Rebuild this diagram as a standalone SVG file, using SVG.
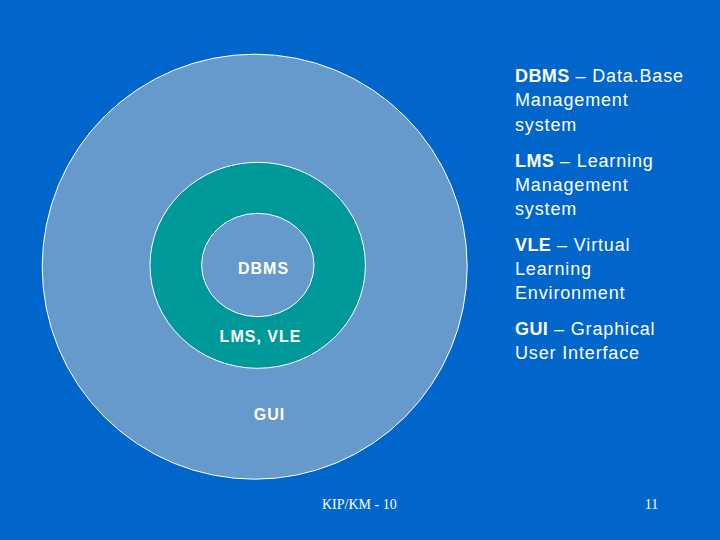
<svg xmlns="http://www.w3.org/2000/svg" width="720" height="540" viewBox="0 0 720 540">
<style>
.ring{stroke:#FFFFFF;stroke-width:1}
.lbl{font-family:"Liberation Sans",Arial,sans-serif;font-size:16px;font-weight:bold;fill:#FFFFFF;text-anchor:middle;letter-spacing:1px}
.leg{font-family:"Liberation Sans",Arial,sans-serif;font-size:18px;fill:#FFFFFF;letter-spacing:0.85px}
.leg .b{font-weight:bold;letter-spacing:0.4px}
.foot{font-family:"Liberation Serif","Times New Roman",serif;font-size:14px;fill:#FFFFFF}
</style>
<rect x="0" y="0" width="720" height="540" fill="#0066CC"/>
<g id="gui">
<circle class="ring" cx="254.7" cy="266.7" r="212.5" fill="#6699CC"/>
<text class="lbl" x="269.5" y="420">GUI</text>
</g>
<g id="lms-vle">
<ellipse class="ring" cx="257.7" cy="265.3" rx="107.7" ry="103" fill="#009999"/>
<text class="lbl" x="260.5" y="342">LMS, VLE</text>
</g>
<g id="dbms">
<ellipse class="ring" cx="257.8" cy="265" rx="56.2" ry="51.7" fill="#6699CC"/>
<text class="lbl" x="263.5" y="274">DBMS</text>
</g>
<g id="legend">
<text class="leg" x="515" y="82"><tspan class="b">DBMS</tspan> – Data.Base</text>
<text class="leg" x="515" y="106">Management</text>
<text class="leg" x="515" y="131">system</text>
<text class="leg" x="515" y="167"><tspan class="b">LMS</tspan> – Learning</text>
<text class="leg" x="515" y="191">Management</text>
<text class="leg" x="515" y="215">system</text>
<text class="leg" x="515" y="251"><tspan class="b">VLE</tspan> – Virtual</text>
<text class="leg" x="515" y="275">Learning</text>
<text class="leg" x="515" y="299">Environment</text>
<text class="leg" x="515" y="335"><tspan class="b">GUI</tspan> – Graphical</text>
<text class="leg" x="515" y="359">User Interface</text>
</g>
<g id="footer">
<text class="foot" x="322" y="509">KIP/KM - 10</text>
<text class="foot" x="651.5" y="509" text-anchor="middle">11</text>
</g>
<g id="connectors"></g>
</svg>
